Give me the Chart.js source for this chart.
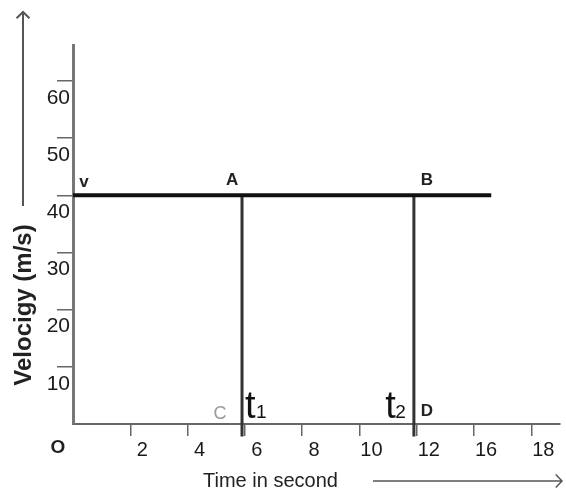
<!DOCTYPE html>
<html>
<head>
<meta charset="utf-8">
<script src="https://cdn.jsdelivr.net/npm/chart.js@4"></script>
<style>
  body { margin: 0; background: #fff; }
  canvas { display: block; }
</style>
</head>
<body>
<canvas id="graficoVelocidade" width="566" height="494"></canvas>
<script>
// values
const velocidade = 40;          // v, m/s
const t1 = 5.9;                 // s
const t2 = 11.9;                // s
const fimLinha = 14.6;          // where the v line stops
const xTickLabels = ['2', '4', '6', '8', '10', '12', '16', '18'];
const yTicks = [10, 20, 30, 40, 50, 60];

const fonte = "'Liberation Sans', Arial, sans-serif";

const linhaV = [{ x: 0, y: velocidade }, { x: fimLinha, y: velocidade }];
const linhaAC = [{ x: t1, y: velocidade }, { x: t1, y: -2.2 }];
const linhaBD = [{ x: t2, y: velocidade }, { x: t2, y: -2.2 }];

// letters on the picture, hung on points of the lines
const marcas = [
    { texto: 'v', x: 0, y: velocidade, dx: 11, dy: -13, cor: '#222' },
    { texto: 'A', x: t1, y: velocidade, dx: -10, dy: -15, cor: '#222' },
    { texto: 'B', x: t2, y: velocidade, dx: 13, dy: -15, cor: '#222' },
    { texto: 'C', x: t1, y: 0, dx: -22, dy: -10, cor: '#999' },
    { texto: 'D', x: t2, y: 0, dx: 13, dy: -13, cor: '#222' }
];

function seta(ctx, x1, y1, x2, y2) {
    const ang = Math.atan2(y2 - y1, x2 - x1);
    ctx.beginPath();
    ctx.moveTo(x1, y1);
    ctx.lineTo(x2, y2);
    ctx.moveTo(x2 - 9 * Math.cos(ang - 0.8), y2 - 9 * Math.sin(ang - 0.8));
    ctx.lineTo(x2, y2);
    ctx.lineTo(x2 - 9 * Math.cos(ang + 0.8), y2 - 9 * Math.sin(ang + 0.8));
    ctx.stroke();
}

const textos = {
    id: 'textos',
    afterDraw(chart) {
        const ctx = chart.ctx;
        const sx = chart.scales.x;
        const sy = chart.scales.y;
        ctx.save();
        ctx.textAlign = 'center';
        ctx.textBaseline = 'middle';

        marcas.forEach(m => {
            ctx.fillStyle = m.cor;
            ctx.font = (m.texto === 'C' ? '18px ' : 'bold 17px ') + fonte;
            ctx.fillText(m.texto, sx.getPixelForValue(m.x) + m.dx, sy.getPixelForValue(m.y) + m.dy);
        });

        // t1 and t2
        const base = sy.getPixelForValue(0) - 6;
        ctx.textBaseline = 'alphabetic';
        ctx.fillStyle = '#111';
        ctx.textAlign = 'left';
        ctx.font = '38px ' + fonte;
        const xt1 = sx.getPixelForValue(t1) + 3;
        ctx.fillText('t', xt1, base);
        ctx.font = '19px ' + fonte;
        ctx.fillText('1', xt1 + 11, base);
        ctx.textAlign = 'right';
        const xt2 = sx.getPixelForValue(t2) - 8;
        ctx.fillText('2', xt2, base);
        ctx.font = '38px ' + fonte;
        ctx.fillText('t', xt2 - 10, base);

        // origin
        ctx.textAlign = 'center';
        ctx.textBaseline = 'middle';
        ctx.font = 'bold 19px ' + fonte;
        ctx.fillStyle = '#222';
        ctx.fillText('O', 58, 448);

        // axis titles with arrows
        ctx.fillStyle = '#222';
        ctx.font = '20px ' + fonte;
        ctx.textAlign = 'left';
        ctx.fillText('Time in second', 203, 481);
        ctx.save();
        ctx.translate(24, 305);
        ctx.rotate(-Math.PI / 2);
        ctx.textAlign = 'center';
        ctx.font = 'bold 24px ' + fonte;
        ctx.fillText('Velocigy (m/s)', 0, 0);
        ctx.restore();

        ctx.strokeStyle = '#555';
        ctx.lineWidth = 1.5;
        seta(ctx, 373, 481, 562, 481);
        ctx.lineWidth = 2;
        seta(ctx, 23, 206, 23, 12);
        ctx.restore();
    }
};

const graficoVelocidade = new Chart(document.getElementById('graficoVelocidade'), {
    type: 'scatter',
    data: {
        datasets: [
            { data: linhaV, showLine: true, borderColor: '#111', borderWidth: 4, pointRadius: 0, clip: false },
            { data: linhaAC, showLine: true, borderColor: '#333', borderWidth: 3, pointRadius: 0, clip: false },
            { data: linhaBD, showLine: true, borderColor: '#333', borderWidth: 3, pointRadius: 0, clip: false }
        ]
    },
    options: {
        responsive: false,
        animation: false,
        devicePixelRatio: 1,
        layout: { padding: { top: 45, right: 6, left: 0, bottom: 0 } },
        plugins: { legend: { display: false }, tooltip: { enabled: false } },
        scales: {
            x: {
                type: 'linear',
                min: 0,
                max: 17,
                afterFit: scale => { scale.height = 70; },
                border: { color: '#666', width: 2 },
                grid: { drawOnChartArea: false, tickLength: 12, color: '#666', lineWidth: 1.5 },
                ticks: {
                    stepSize: 2,
                    includeBounds: false,
                    autoSkip: false,
                    maxRotation: 0,
                    labelOffset: 12,
                    padding: 2,
                    color: '#1a1a1a',
                    font: { family: fonte, size: 20 },
                    callback: v => (v === 0 ? null : xTickLabels[v / 2 - 1])
                }
            },
            y: {
                type: 'linear',
                min: 0,
                max: 66.3,
                afterFit: scale => { scale.width = 73; },
                border: { color: '#777', width: 3 },
                grid: { drawOnChartArea: false, tickLength: 16, color: '#666', lineWidth: 1.5 },
                ticks: {
                    stepSize: 10,
                    includeBounds: false,
                    labelOffset: 17,
                    padding: -13,
                    color: '#1a1a1a',
                    font: { family: fonte, size: 21 },
                    callback: v => (yTicks.includes(v) ? String(v) : null)
                }
            }
        }
    },
    plugins: [textos]
});
</script>
</body>
</html>
